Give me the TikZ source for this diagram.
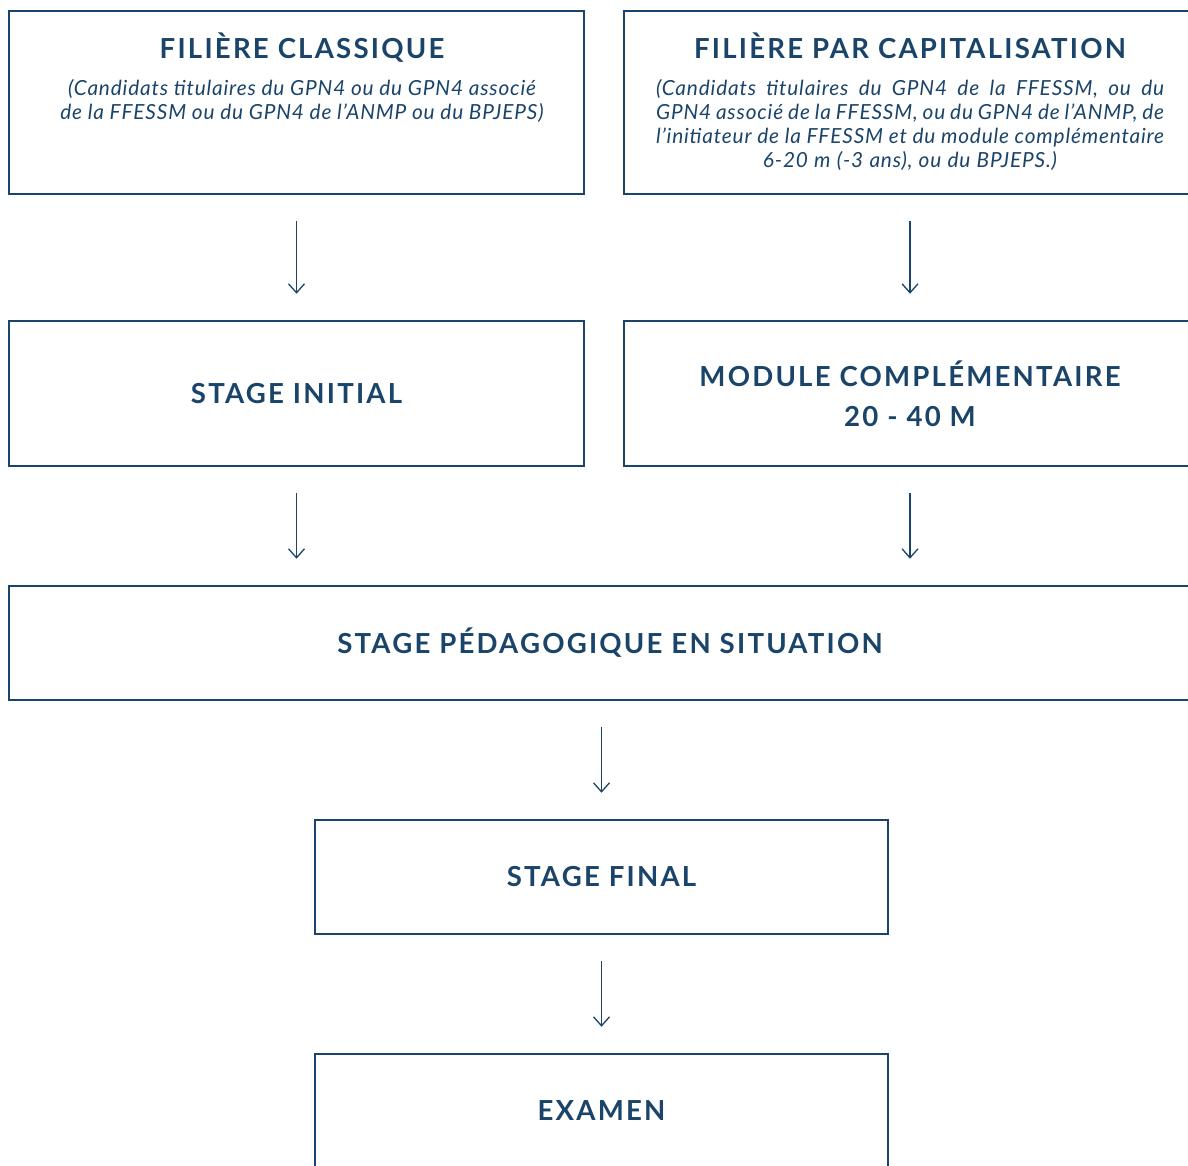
\documentclass[tikz,border=0pt]{standalone}
\usepackage{fontspec}
\setmainfont{Lato}
\newfontfamily\headfont[LetterSpace=8]{Lato}
\newfontfamily\subfont[LetterSpace=4]{Lato}
\usetikzlibrary{arrows.meta}
\definecolor{navy}{HTML}{1A4469}
\tikzset{
	boite/.style={draw=navy, line width=2.5pt, inner sep=0pt, minimum width=#1},
	titre/.style={text=navy, font=\headfont\bfseries\fontsize{27.6}{40}\selectfont, align=center},
	detail/.style={text=navy, font=\subfont\itshape\fontsize{20.8}{24}\selectfont, inner sep=0pt},
	fleche/.style={draw=navy, line width=1.3pt, -{Straight Barb[length=9pt,width=16pt]}, shorten <=26pt, shorten >=26pt}
}
\begin{document}
\begin{tikzpicture}[x=1pt, y=-1pt]
			\useasboundingbox (0,0) rectangle (1188,1166);
			\clip (0,0) rectangle (1188,1166);
			\node[boite=575pt, minimum height=183pt] (A) at (296.5,102.5) {};
			\node[boite=572pt, minimum height=183pt] (B) at (910,102.5) {};
			\node[titre, anchor=base] (tA) at (302,59) {FILIÈRE CLASSIQUE};
			\node[titre, anchor=base] (tB) at (910,59) {FILIÈRE PAR CAPITALISATION};
			\node[detail, anchor=north, align=center] (sA) at (302,79) {(Candidats titulaires du GPN4 ou du GPN4 associé\\de la FFESSM ou du GPN4 de l’ANMP ou du BPJEPS)};
			\node[detail, anchor=north, align=justify, text width=508pt] (sB) at (910,79) {\spaceskip=0.3em plus 0.4em minus 0.2em
				(Candidats titulaires du GPN4 de la FFESSM, ou du\linebreak GPN4 associé de la FFESSM, ou du GPN4 de l’ANMP, de\linebreak l’initiateur de la FFESSM et du module complémentaire\par\centering 6-20 m (-3 ans), ou du BPJEPS.)\par};
			\node[boite=575pt, minimum height=145pt, titre] (C) at (296.5,393.5) {STAGE INITIAL};
			\node[boite=572pt, minimum height=145pt, titre] (D) at (910,393.5) {MODULE COMPLÉMENTAIRE\\20 - 40 M};
			\node[boite=1202pt, minimum height=114pt, titre] (E) at (610,643) {STAGE PÉDAGOGIQUE EN SITUATION};
			\node[boite=573pt, minimum height=114pt, titre] (F) at (601.5,877) {STAGE FINAL};
			\node[boite=573pt, minimum height=114pt, titre] (G) at (601.5,1111) {EXAMEN};
			\foreach \a/\b in {A/C,B/D,F/G}{
				\draw[fleche] (\a) -- (\b);
			}
			\draw[fleche] (C) -- (C |- E.north);
			\draw[fleche] (D) -- (D |- E.north);
			\draw[fleche] (E.south -| F) -- (F);
		\end{tikzpicture}
\end{document}
